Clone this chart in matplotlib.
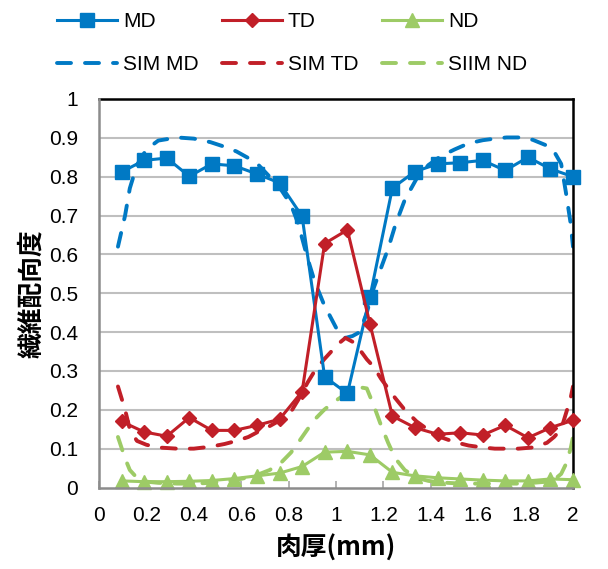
import matplotlib
matplotlib.use("Agg")
import matplotlib.pyplot as plt
from matplotlib.lines import Line2D

# ---- data ----
thickness = [0.095, 0.190, 0.286, 0.381, 0.476, 0.571, 0.667, 0.762, 0.857, 0.952,
             1.048, 1.143, 1.238, 1.333, 1.429, 1.524, 1.619, 1.714, 1.810, 1.905, 2.000]
md = [0.812, 0.842, 0.848, 0.801, 0.833, 0.828, 0.807, 0.784, 0.698, 0.285,
      0.242, 0.490, 0.771, 0.813, 0.833, 0.836, 0.842, 0.816, 0.850, 0.820, 0.800]
td = [0.170, 0.143, 0.132, 0.180, 0.147, 0.147, 0.160, 0.176, 0.247, 0.628,
      0.663, 0.422, 0.184, 0.154, 0.137, 0.141, 0.135, 0.160, 0.128, 0.154, 0.173]
nd = [0.017, 0.015, 0.015, 0.016, 0.018, 0.023, 0.030, 0.037, 0.054, 0.091,
      0.093, 0.084, 0.039, 0.030, 0.025, 0.022, 0.019, 0.017, 0.017, 0.022, 0.020]

sim_x = [0.08, 0.11, 0.13, 0.16, 0.20, 0.25, 0.33, 0.40, 0.47, 0.53, 0.58, 0.63,
         0.67, 0.72, 0.77, 0.81, 0.84, 0.88, 0.91, 0.95, 0.98, 1.01, 1.04, 1.07,
         1.10, 1.13, 1.16, 1.19, 1.22, 1.25, 1.29, 1.34, 1.39, 1.44, 1.50, 1.56,
         1.62, 1.67, 1.72, 1.77, 1.83, 1.89, 1.92, 1.95, 1.97, 1.99, 2.00]
sim_md = [0.62, 0.70, 0.77, 0.83, 0.87, 0.893, 0.901, 0.898, 0.889, 0.877, 0.865, 0.848,
          0.832, 0.80, 0.765, 0.728, 0.68, 0.59, 0.53, 0.47, 0.435, 0.40, 0.385, 0.39,
          0.40, 0.45, 0.515, 0.565, 0.615, 0.675, 0.74, 0.795, 0.83, 0.852, 0.87, 0.886,
          0.894, 0.898, 0.901, 0.901, 0.895, 0.88, 0.865, 0.833, 0.76, 0.68, 0.62]
sim_td = [0.26, 0.20, 0.15, 0.12, 0.11, 0.103, 0.10, 0.10, 0.105, 0.112, 0.12, 0.13,
          0.143, 0.158, 0.175, 0.195, 0.225, 0.27, 0.30, 0.33, 0.35, 0.37, 0.385, 0.375,
          0.355, 0.33, 0.31, 0.28, 0.255, 0.23, 0.20, 0.17, 0.148, 0.13, 0.117, 0.108,
          0.103, 0.10, 0.10, 0.10, 0.103, 0.115, 0.13, 0.15, 0.19, 0.23, 0.26]
sim_nd = [0.13, 0.075, 0.045, 0.025, 0.015, 0.012, 0.01, 0.01, 0.012, 0.015, 0.02, 0.026,
          0.033, 0.045, 0.065, 0.09, 0.115, 0.15, 0.175, 0.20, 0.215, 0.228, 0.24, 0.25,
          0.258, 0.255, 0.21, 0.16, 0.115, 0.075, 0.045, 0.025, 0.017, 0.013, 0.011, 0.01,
          0.01, 0.01, 0.01, 0.01, 0.012, 0.015, 0.02, 0.035, 0.06, 0.10, 0.13]

labels = ["MD", "TD", "ND", "SIM MD", "SIM TD", "SIIM ND"]
xticks = [0, 0.2, 0.4, 0.6, 0.8, 1, 1.2, 1.4, 1.6, 1.8, 2]
xtick_labels = ["0", "0.2", "0.4", "0.6", "0.8", "1", "1.2", "1.4", "1.6", "1.8", "2"]
yticks = [0, 0.1, 0.2, 0.3, 0.4, 0.5, 0.6, 0.7, 0.8, 0.9, 1]
ytick_labels = ["0", "0.1", "0.2", "0.3", "0.4", "0.5", "0.6", "0.7", "0.8", "0.9", "1"]
xlabel = "肉厚(mm)"
ylabel = "繊維配向度"

# ---- style ----
C_MD = "#0079C4"
C_TD = "#C11F28"
C_ND = "#9DCB66"
plt.rcParams['font.family'] = ['Liberation Sans', 'Noto Sans CJK JP', 'DejaVu Sans']
FS = 15

fig = plt.figure(figsize=(6.08, 5.69), dpi=100)
ax = fig.add_axes([99/608, 1-487.5/569, (573-99)/608, (487.5-99)/569])

dash = (0, (3.6, 3.6))
lw_sim = 2.8
lw = 2.2

h_smd, = ax.plot(sim_x, sim_md, color=C_MD, lw=lw_sim, linestyle=dash, dash_capstyle='round', zorder=2)
h_std, = ax.plot(sim_x, sim_td, color=C_TD, lw=lw_sim, linestyle=dash, dash_capstyle='round', zorder=2)
h_snd, = ax.plot(sim_x, sim_nd, color=C_ND, lw=lw_sim, linestyle=dash, dash_capstyle='round', zorder=2)

h_md, = ax.plot(thickness, md, color=C_MD, lw=lw, marker='s', markersize=9.5, zorder=4, clip_on=False)
h_td, = ax.plot(thickness, td, color=C_TD, lw=lw, marker='D', markersize=7.2, zorder=4, clip_on=False)
h_nd, = ax.plot(thickness, nd, color=C_ND, lw=lw, marker='^', markersize=10, zorder=3, clip_on=False)

ax.set_xlim(0, 2)
ax.set_ylim(0, 1)
ax.set_xticks(xticks)
ax.set_xticklabels(xtick_labels, fontsize=FS)
ax.set_yticks(yticks)
ax.set_yticklabels(ytick_labels, fontsize=FS)
ax.tick_params(axis='x', direction='in', length=5, width=1.2, color='#A6A6A6', pad=13)
ax.tick_params(axis='y', length=0, pad=15)
for y in yticks[1:-1]:
    ax.axhline(y, color='#BFBFBF', lw=1.5, zorder=1)

for s in ['top', 'right']:
    ax.spines[s].set_color('black')
    ax.spines[s].set_linewidth(1.8)
for s in ['left', 'bottom']:
    ax.spines[s].set_color('#8C8C8C')
    ax.spines[s].set_linewidth(1.8)
    ax.spines[s].set_zorder(5)

ax.set_xlabel(xlabel, fontsize=18.5, fontweight='bold', family=['Noto Sans CJK JP'], labelpad=7)
ax.set_ylabel(ylabel, fontsize=18.5, fontweight='bold', family=['Noto Sans CJK JP'], labelpad=3)

leg_labels = [labels[0], labels[3], labels[1], labels[4], labels[2], labels[5]]
leg_handles = [
    Line2D([], [], color=C_MD, lw=lw, marker='s', markersize=9.5),
    Line2D([], [], color=C_MD, lw=lw_sim, linestyle=dash, dash_capstyle='round'),
    Line2D([], [], color=C_TD, lw=lw, marker='D', markersize=7.2),
    Line2D([], [], color=C_TD, lw=lw_sim, linestyle=dash, dash_capstyle='round'),
    Line2D([], [], color=C_ND, lw=lw, marker='^', markersize=10),
    Line2D([], [], color=C_ND, lw=lw_sim, linestyle=dash, dash_capstyle='round'),
]
fig.legend(leg_handles, leg_labels, ncol=3, loc='upper left',
           bbox_to_anchor=(53/608, 1 - 8/569), frameon=False, fontsize=FS,
           handlelength=2.85, handletextpad=0.3, columnspacing=1.15,
           labelspacing=1.15, borderpad=0.2, borderaxespad=0)

fig.savefig("out.png", dpi=100)
